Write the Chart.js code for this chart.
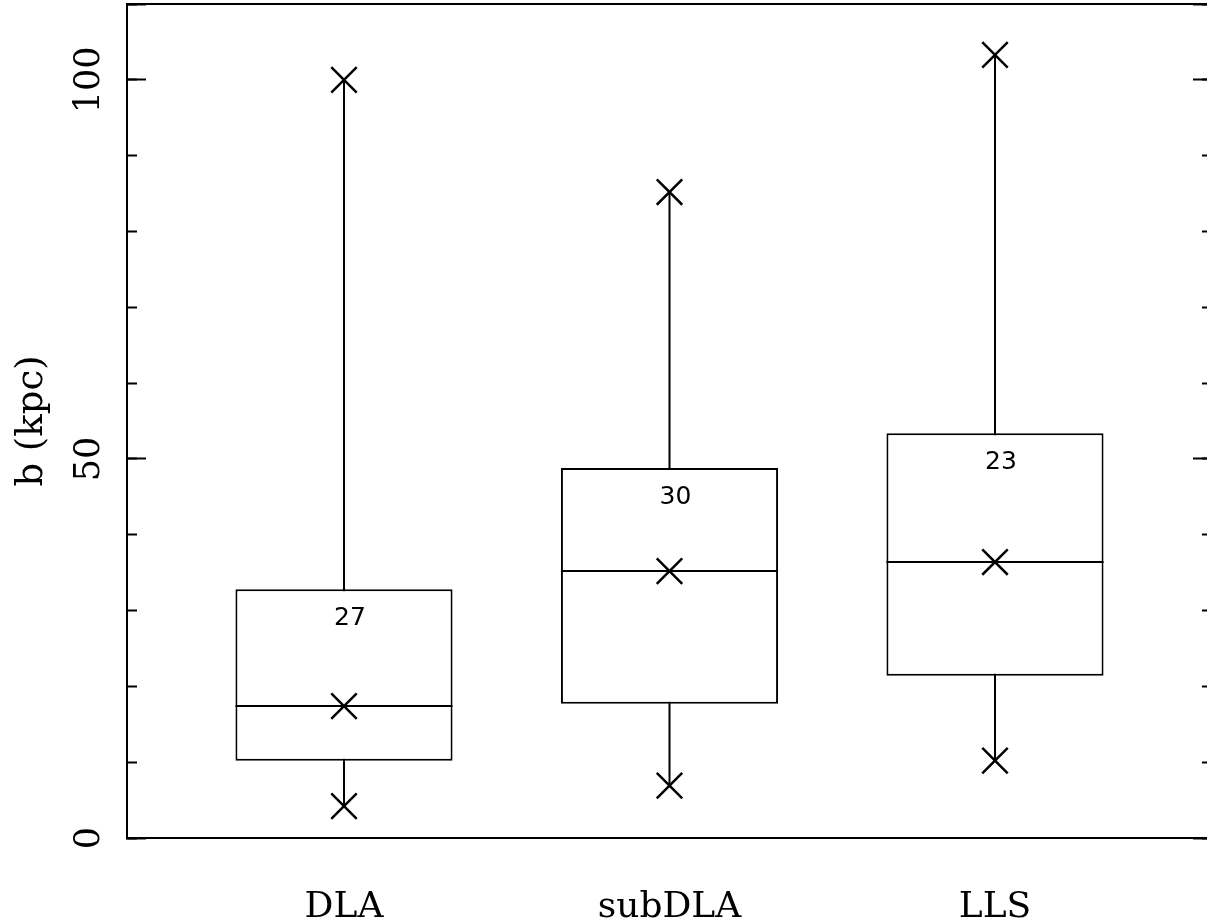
<!DOCTYPE html>
<html>
<head>
<meta charset="utf-8">
<script src="https://cdn.jsdelivr.net/npm/chart.js@4.4.1/dist/chart.umd.min.js"></script>
<style>
  html, body { margin: 0; padding: 0; background: #fff; overflow: hidden; }
  canvas { display: block; }
</style>
</head>
<body>
<!-- frame's right edge sits just past the window edge, as in the original -->
<canvas id="chart" width="1212" height="924"></canvas>
<script>
const categories = ['DLA', 'subDLA', 'LLS'];
const mins = [4.2, 6.9, 10.2];
const q1s = [10.2, 17.7, 21.4];
const medians = [17.4, 35.2, 36.4];
const q3s = [32.8, 48.8, 53.4];
const maxs = [100, 85.2, 103.3];
const counts = [27, 30, 23];
const yMajorTicks = [0, 50, 100];

const positions = categories.map((c, i) => i + 1);
const serif = '"DejaVu Serif", serif';

// whiskers: one vertical segment per group, split by a null point
const whiskerData = [];
positions.forEach((x, i) => {
  whiskerData.push({ x: x, y: mins[i] }, { x: x, y: maxs[i] }, { x: x, y: null });
});
const boxData = positions.map((x, i) => ({ x: x, y: [q1s[i], q3s[i]] }));
const markerData = [];
positions.forEach((x, i) => {
  markerData.push({ x: x, y: mins[i] }, { x: x, y: medians[i] }, { x: x, y: maxs[i] });
});

// median line across each box + sample size under the box top
const boxExtras = {
  id: 'boxExtras',
  afterDatasetsDraw(chart) {
    const ctx = chart.ctx;
    const y = chart.scales.y;
    const bars = chart.getDatasetMeta(1).data;
    ctx.save();
    ctx.strokeStyle = '#000';
    ctx.lineWidth = 2;
    bars.forEach((bar, i) => {
      const py = Math.round(y.getPixelForValue(medians[i]));
      ctx.beginPath();
      ctx.moveTo(bar.x - bar.width / 2, py);
      ctx.lineTo(bar.x + bar.width / 2, py);
      ctx.stroke();
    });
    ctx.fillStyle = '#000';
    ctx.font = '25px "DejaVu Sans"';
    ctx.textAlign = 'center';
    ctx.textBaseline = 'middle';
    bars.forEach((bar, i) => {
      ctx.fillText(String(counts[i]), bar.x + 6, y.getPixelForValue(q3s[i]) + 29);
    });
    ctx.restore();
  }
};

// fixed axis sizes, no label overhang padding
function fixSize(w, h) {
  return s => {
    if (w !== null) s.width = w;
    if (h !== null) s.height = h;
    s.paddingLeft = 0; s.paddingRight = 0; s.paddingTop = 0; s.paddingBottom = 0;
  };
}

function sideAxis(position, step, tickLen, weight) {
  return {
    type: 'linear', position: position, min: 0, max: 110, weight: weight,
    afterFit: fixSize(0, null),
    border: { display: false },
    grid: { drawOnChartArea: false, drawTicks: true, tickLength: tickLen, tickWidth: 2, tickColor: '#000' },
    ticks: { display: false, stepSize: step, autoSkip: false }
  };
}

new Chart(document.getElementById('chart'), {
  type: 'bar',
  data: {
    datasets: [
      {
        type: 'line', data: whiskerData, borderColor: '#000', borderWidth: 2,
        pointRadius: 0, spanGaps: false, fill: false, order: 3
      },
      {
        type: 'bar', data: boxData, backgroundColor: '#fff', borderColor: '#000',
        borderWidth: 2, borderSkipped: false, barPercentage: 0.667, categoryPercentage: 1, order: 2
      },
      {
        type: 'line', data: markerData, showLine: false, pointStyle: 'crossRot',
        pointRadius: 18, pointHoverRadius: 18, pointBorderColor: '#000', pointBorderWidth: 2.5, order: 0
      }
    ]
  },
  options: {
    responsive: false,
    animation: false,
    events: [],
    devicePixelRatio: 1,
    layout: { autoPadding: false, padding: { left: 0, right: 0, top: 4, bottom: 0 } },
    plugins: { legend: { display: false }, tooltip: { enabled: false } },
    scales: {
      x: {
        type: 'linear', position: 'bottom', min: 1 / 3, max: 11 / 3, offset: false,
        afterBuildTicks: s => { s.ticks = positions.map(v => ({ value: v })); },
        afterFit: fixSize(null, 86),
        border: { display: true, color: '#000', width: 2 },
        grid: { display: false, drawTicks: false, offset: false },
        ticks: {
          callback: v => categories[Math.round(v) - 1] || '',
          font: { family: serif, size: 36 }, color: '#000',
          padding: 48, maxRotation: 0, autoSkip: false
        }
      },
      xTop: {
        type: 'linear', position: 'top', min: 1 / 3, max: 11 / 3, offset: false, display: true,
        afterFit: fixSize(null, 0),
        border: { display: true, color: '#000', width: 2 },
        grid: { display: false, drawTicks: false, offset: false },
        ticks: { display: false }
      },
      y: {
        type: 'linear', position: 'left', min: 0, max: 110, weight: 1,
        afterFit: fixSize(127, null),
        border: { display: true, color: '#000', width: 2 },
        grid: { drawOnChartArea: false, drawTicks: true, tickLength: -10, tickWidth: 2, tickColor: '#000' },
        ticks: {
          stepSize: 10, autoSkip: false,
          callback: v => yMajorTicks.includes(v) ? String(v) : '',
          minRotation: 90, maxRotation: 90, crossAlign: 'center',
          padding: 14, font: { family: serif, size: 35 }, color: '#000'
        },
        title: {
          display: true, text: 'b (kpc)', color: '#000',
          font: { family: serif, size: 37 }, padding: { top: 10, bottom: 0 }
        }
      },
      yMajL: sideAxis('left', 50, -19, 0),
      yR: sideAxis('right', 10, -10, 0),
      yMajR: sideAxis('right', 50, -19, 1)
    }
  },
  plugins: [boxExtras]
});
</script>
</body>
</html>
